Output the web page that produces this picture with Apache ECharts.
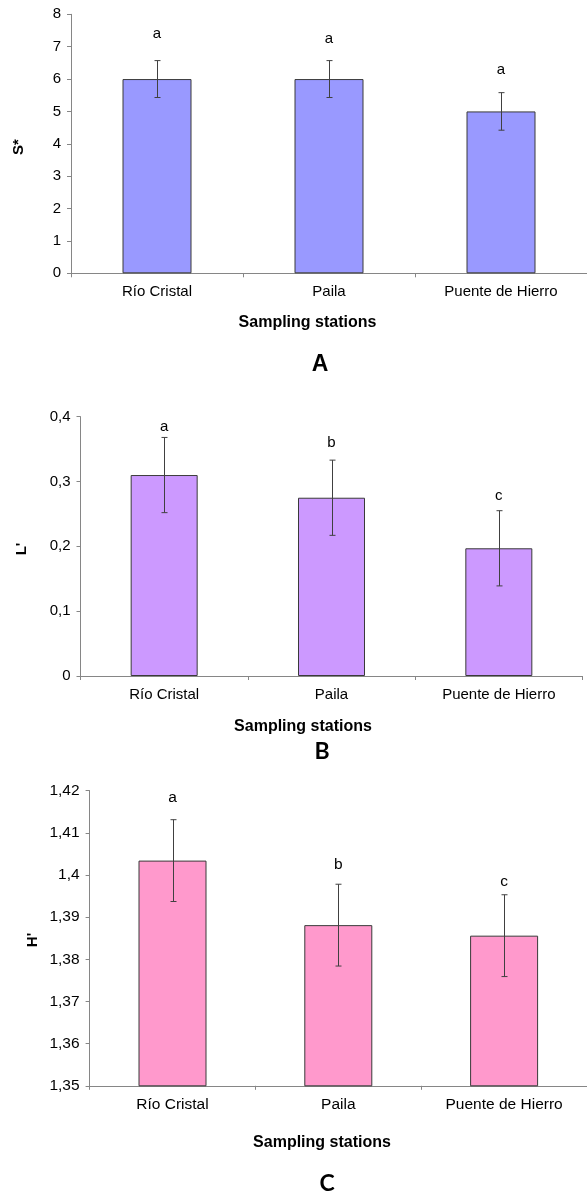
<!DOCTYPE html>
<html>
<head>
<meta charset="utf-8">
<script src="https://cdn.jsdelivr.net/npm/echarts@6/dist/echarts.min.js"></script>
<style>
html,body{margin:0;padding:0;background:#fff;}
#chart{width:587px;height:1194px;}
</style>
</head>
<body>
<div id="chart"></div>
<script>
// ---- data ----
const categories = ['Río Cristal', 'Paila', 'Puente de Hierro'];

const sValues = [6, 6, 5];
const sErrors = [0.57, 0.57, 0.58];
const sLetters = ['a', 'a', 'a'];
const sLetterAt = [7.41, 7.23, 6.28];

const lValues = [0.310, 0.275, 0.197];
const lErrors = [0.058, 0.058, 0.058];
const lLetters = ['a', 'b', 'c'];
const lLetterAt = [0.385, 0.359, 0.278];

const hValues = [1.4034, 1.3881, 1.3856];
const hErrors = [0.0097, 0.0097, 0.0097];
const hLetters = ['a', 'b', 'c'];
const hLetterAt = [1.4183, 1.4025, 1.3983];

const yTicksS = {min: 0, max: 8, interval: 1};
const yTicksL = {min: 0, max: 0.4, interval: 0.1};
const yTicksH = {min: 1.35, max: 1.42, interval: 0.01};

// ---- styling ----
const FONT = '"Liberation Sans", Arial, sans-serif';
const AXIS_COLOR = '#868686';
const panels = [
  {grid: {left: 71, top: 14.3, width: 519, height: 259}, vals: sValues, err: sErrors, let: sLetters, letAt: sLetterAt, ticks: yTicksS, color: '#9999FF', barWidth: 69, fs: 15},
  {grid: {left: 80.5, top: 416.7, width: 502, height: 259.3}, vals: lValues, err: lErrors, let: lLetters, letAt: lLetterAt, ticks: yTicksL, color: '#CC99FF', barWidth: 67, fs: 15},
  {grid: {left: 89.6, top: 790.6, width: 503, height: 295.2}, vals: hValues, err: hErrors, let: hLetters, letAt: hLetterAt, ticks: yTicksH, color: '#FF99CC', barWidth: 68, fs: 15.5}
];

function fmt(v) {
  return String(parseFloat(v.toFixed(4))).replace('.', ',');
}

const grids = [], xAxes = [], yAxes = [], series = [];
panels.forEach((p, i) => {
  grids.push(Object.assign({containLabel: false}, p.grid));
  xAxes.push({
    type: 'category', gridIndex: i, data: categories,
    boundaryGap: true,
    axisLine: {lineStyle: {color: AXIS_COLOR, width: 1}},
    axisTick: {show: true, alignWithLabel: false, length: 4, lineStyle: {color: AXIS_COLOR}},
    axisLabel: {color: '#000', fontFamily: FONT, fontSize: p.fs, margin: 11},
    splitLine: {show: false}
  });
  yAxes.push({
    type: 'value', gridIndex: i,
    min: p.ticks.min, max: p.ticks.max, interval: p.ticks.interval,
    axisLine: {show: true, lineStyle: {color: AXIS_COLOR, width: 1}},
    axisTick: {show: true, length: 4, lineStyle: {color: AXIS_COLOR}},
    axisLabel: {color: '#000', fontFamily: FONT, fontSize: p.fs, margin: 10, formatter: fmt},
    splitLine: {show: false}
  });
  series.push({
    type: 'bar', xAxisIndex: i, yAxisIndex: i,
    data: p.vals, barWidth: p.barWidth,
    itemStyle: {color: p.color, borderColor: '#3a3a3a', borderWidth: 1},
    silent: true, animation: false
  });
  series.push({
    type: 'custom', xAxisIndex: i, yAxisIndex: i,
    data: p.vals.map((v, k) => [k, v - p.err[k], v + p.err[k]]),
    renderItem: function (params, api) {
      const lo = api.coord([api.value(0), api.value(1)]);
      const hi = api.coord([api.value(0), api.value(2)]);
      const x = Math.round(lo[0]) + 0.5;
      const cap = 3;
      const st = {stroke: '#404040', lineWidth: 1};
      return {type: 'group', children: [
        {type: 'line', shape: {x1: x, y1: hi[1], x2: x, y2: lo[1]}, style: st},
        {type: 'line', shape: {x1: x - cap, y1: hi[1], x2: x + cap, y2: hi[1]}, style: st},
        {type: 'line', shape: {x1: x - cap, y1: lo[1], x2: x + cap, y2: lo[1]}, style: st}
      ]};
    },
    z: 5, silent: true, animation: false
  });
  series.push({
    type: 'custom', xAxisIndex: i, yAxisIndex: i,
    data: p.letAt.map((v, k) => [k, v]),
    renderItem: function (params, api) {
      const pt = api.coord([api.value(0), api.value(1)]);
      return {type: 'text', x: pt[0], y: pt[1], style: {
        text: p.let[params.dataIndex], fill: '#000', font: p.fs + 'px ' + FONT,
        align: 'center', verticalAlign: 'middle'}};
    },
    z: 6, silent: true, animation: false
  });
});

function label(text, x, y, size, opts) {
  return Object.assign({
    type: 'text', x: x, y: y, silent: true,
    style: {text: text, fill: '#000', font: 'bold ' + size + 'px ' + FONT, align: 'center', verticalAlign: 'middle'}
  }, opts || {});
}
const TITLE_FONT = 'Lato, "Open Sans", sans-serif';
function panelTag(text, x, y, font) {
  return {type: 'text', x: x, y: y, silent: true,
    style: {text: text, fill: '#000', font: font, align: 'center', verticalAlign: 'middle'}};
}

const graphics = [
  label('S*', 19, 147, 15, {rotation: Math.PI / 2}),
  label('L\'', 22, 549, 15, {rotation: Math.PI / 2}),
  label('H\'', 33, 940, 15, {rotation: Math.PI / 2}),
  label('Sampling stations', 307.5, 323, 16),
  label('Sampling stations', 303, 727, 16),
  label('Sampling stations', 322, 1143, 16),
  panelTag('A', 320, 365, 'bold 23px ' + FONT),
  panelTag('B', 322, 752, 'bold 23px ' + TITLE_FONT),
  panelTag('C', 327, 1184, 'bold 23px ' + TITLE_FONT)
];

const chart = echarts.init(document.getElementById('chart'), null, {renderer: 'canvas'});
chart.setOption({
  animation: false,
  backgroundColor: '#fff',
  grid: grids, xAxis: xAxes, yAxis: yAxes, series: series,
  graphic: graphics
});
</script>
</body>
</html>
